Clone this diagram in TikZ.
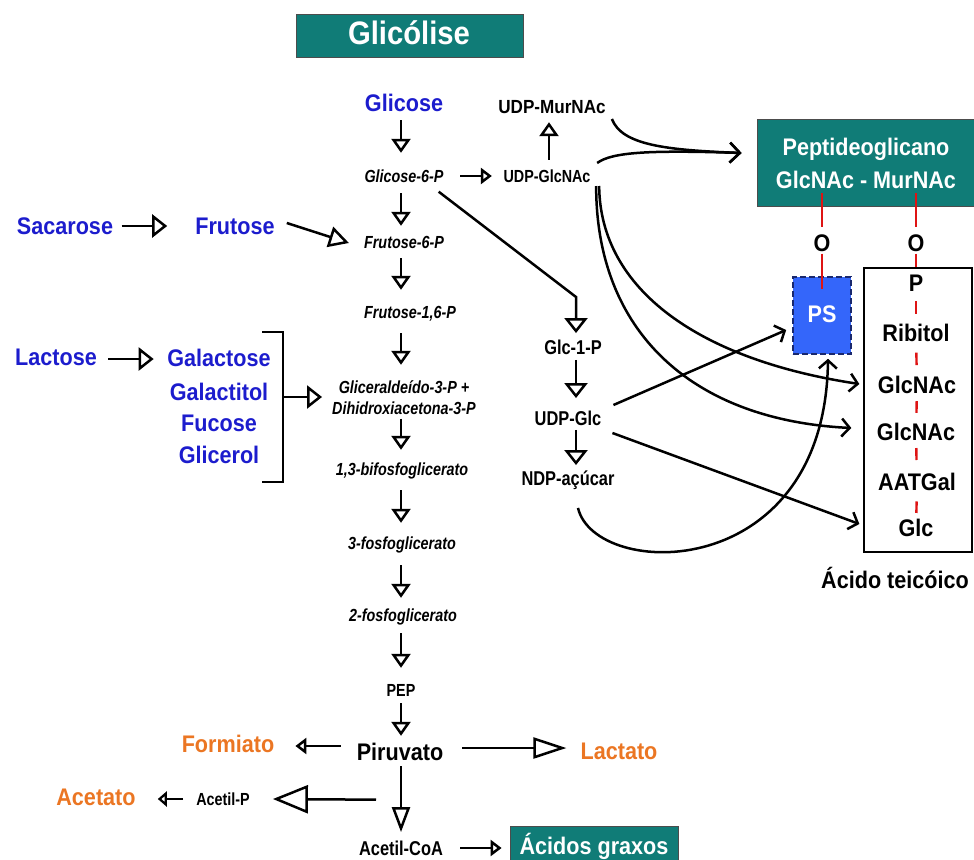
\documentclass[tikz,border=0pt]{standalone}
\usepackage{fontspec}
\setmainfont{Liberation Sans}
\newfontfamily\narf[FakeStretch=0.82]{Liberation Sans}
\newfontfamily\midf[FakeStretch=0.9]{Liberation Sans}
\usetikzlibrary{arrows.meta,calc}
\definecolor{tblue}{RGB}{28,28,205}
\definecolor{torange}{RGB}{235,118,35}
\definecolor{tteal}{RGB}{16,124,119}
\definecolor{psblue}{RGB}{52,102,250}
\definecolor{psedge}{RGB}{25,40,110}
\definecolor{tred}{RGB}{222,20,20}
\begin{document}
\begin{tikzpicture}[x=1pt,y=-1pt,
  every node/.style={inner sep=0pt},
  bigt/.style={font=\midf\bfseries\fontsize{24}{26}\selectfont, text height=17pt, text depth=4pt},
  titlet/.style={font=\midf\bfseries\fontsize{32.5}{34}\selectfont, text height=23pt, text depth=0pt, text=white},
  murt/.style={font=\midf\bfseries\fontsize{19}{21}\selectfont, text height=14pt, text depth=4pt},
  smallt/.style={font=\narf\bfseries\fontsize{17.5}{20}\selectfont, text height=13pt, text depth=4pt},
  itt/.style={font=\narf\bfseries\itshape\fontsize{17.5}{20}\selectfont, text height=13pt, text depth=4pt},
  medt/.style={font=\narf\bfseries\fontsize{20}{22}\selectfont, text height=15pt, text depth=4.5pt},
  tealbox/.style={fill=tteal, draw=black!70, line width=0.8pt},
  redl/.style={draw=tred, line width=2.4pt},
  ln/.style={line width=2.5pt},
  tri/.style={ln, -{Triangle[open,length=14pt,width=19pt]}},
  triB/.style={ln, -{Triangle[open,length=15pt,width=23pt]}},
  triS/.style={ln, -{Triangle[open,length=11pt,width=16pt]}},
  triT/.style={ln, -{Triangle[open,length=9pt,width=15pt]}},
  triF/.style={ln, -{Triangle[open,length=20pt,width=21pt]}},
  triL/.style={ln, -{Triangle[open,length=33pt,width=21pt]}},
  triA/.style={ln, -{Triangle[open,length=35pt,width=28pt]}},
  triC/.style={ln, -{Triangle[open,length=25pt,width=18pt]}},
  barb/.style={ln, -{Straight Barb[length=8pt,width=18pt]}},
  barbL/.style={ln, -{Straight Barb[length=10pt,width=20pt]}}
]
\useasboundingbox (0,0) rectangle (974,859);
\clip (0,0) rectangle (974,859);

% ---------- title ----------
\node[tealbox, minimum width=227pt, minimum height=43pt] (tbox) at (409.5,35.5) {};
\node[titlet] (ttl) at (409,33.5) {Glicólise};

% ---------- glycolysis chain ----------
\coordinate (axis) at (401,0);
\node[bigt,tblue] (glc) at (404,105) {Glicose};
\node[itt] (g6p) at (404,178) {Glicose-6-P};
\node[itt] (f6p) at (404,244) {Frutose-6-P};
\node[itt] (f16p) at (410,314) {Frutose-1,6-P};
\node[itt] (gli1) at (404,389) {Gliceraldeído-3-P +};
\node[itt] (gli2) at (404,410) {Dihidroxiacetona-3-P};
\node[itt] (bpg) at (402,471) {1,3-bifosfoglicerato};
\node[itt] (p3g) at (402,545) {3-fosfoglicerato};
\node[itt] (p2g) at (403,617) {2-fosfoglicerato};
\node[smallt] (pep) at (401,692) {PEP};
\node[bigt] (pir) at (400,754) {Piruvato};

\draw[tri, shorten <=4.5pt, shorten >=16.5pt] (glc.south -| axis) -- (g6p.north -| axis);
\draw[tri, shorten <=6.5pt, shorten >=9.5pt] (g6p.south -| axis) -- (f6p.north -| axis);
\draw[tri, shorten <=5.5pt, shorten >=15.5pt] (f6p.south -| axis) -- (f16p.north -| axis);
\draw[tri, shorten <=10.5pt, shorten >=15.5pt] (f16p.south -| axis) -- (gli1.north -| axis);
\draw[tri, shorten <=0pt, shorten >=12.5pt] (gli2.south -| axis) -- (bpg.north -| axis);
\draw[tri, shorten <=10.5pt, shorten >=13.5pt] (bpg.south -| axis) -- (p3g.north -| axis);
\draw[tri, shorten <=11.5pt, shorten >=10.5pt] (p3g.south -| axis) -- (p2g.north -| axis);
\draw[tri, shorten <=7.5pt, shorten >=15.5pt] (p2g.south -| axis) -- (pep.north -| axis);
\draw[tri, shorten <=2.5pt, shorten >=7.5pt] (pep.south -| axis) -- (pir.north -| axis);

% ---------- UDP-GlcNAc / MurNAc ----------
\coordinate (axm) at (549,0);
\node[murt] (murnac) at (552,108) {UDP-MurNAc};
\node[smallt] (gnac) at (547,178) {UDP-GlcNAc};
\draw[triS, shorten <=16.5pt, shorten >=11.5pt] ($(g6p.east)+(0,-2)$) -- ($(gnac.west)+(0,-2)$);
\draw[tri, shorten <=9.5pt, shorten >=5pt] (gnac.north -| axm) -- (murnac.south -| axm);

% ---------- left sugars ----------
\node[bigt,tblue] (sac) at (65,228) {Sacarose};
\node[bigt,tblue] (fru) at (235,228) {Frutose};
\node[bigt,tblue] (lac) at (56,359) {Lactose};
\node[bigt,tblue] (gal) at (219,360) {Galactose};
\node[bigt,tblue] (galt) at (219,394) {Galactitol};
\node[bigt,tblue] (fuc) at (219,425) {Fucose};
\node[bigt,tblue] (glr) at (219,457) {Glicerol};

\draw[triB, shorten <=8.5pt, shorten >=28pt] ($(sac.east)+(0,-2)$) -- ($(fru.west)+(0,-2)$);
\draw[triF] ($(fru.east)+(12,-5)$) -- ($(f6p.west)+(-15,-1)$);
\draw[triB, shorten <=11pt, shorten >=13.5pt] ($(lac.east)+(0,0)$) -- ($(gal.west)+(0,-1)$);

\draw[ln] (262,332) -- (283,332) -- (283,482) -- (262,482);
\coordinate (brk) at (283,397);
\draw[triB] (brk) -- ($(gli2.west |- brk)+(-10,0)$);

% ---------- Glc-1-P branch ----------
\coordinate (ax2) at (576,0);
\coordinate (bend) at (576,297);
\node[medt] (g1p) at (573,349) {Glc-1-P};
\node[medt] (udpg) at (568,420) {UDP-Glc};
\node[medt] (ndp) at (568,480) {NDP-açúcar};
\draw[triB, shorten >=6pt] ($(g6p.south east)+(-5,5)$) -- (bend) -- (bend |- g1p.north);
\draw[triB, shorten <=1pt, shorten >=12pt] (g1p.south -| ax2) -- (udpg.north -| ax2);
\draw[triB, shorten >=5pt] (udpg.south -| ax2) -- (ndp.north -| ax2);

% ---------- bottom ----------
\node[bigt,torange] (form) at (228,746) {Formiato};
\node[bigt,torange] (lact) at (619,753) {Lactato};
\node[smallt] (acp) at (223,801) {Acetil-P};
\node[bigt,torange] (acet) at (96,799) {Acetato};
\node[medt] (acoa) at (401,850) {Acetil-CoA};
\node[tealbox, minimum width=168pt, minimum height=44pt] (abox) at (594,848) {};
\node[bigt,white] (acg) at (594,848) {Ácidos graxos};

\draw[triS] ($(pir.west)+(-16,-8)$) -- ($(form.east)+(21,0)$);
\draw[triL] ($(pir.east)+(19,-6)$) -- ($(lact.west)+(-14,-5)$);
\draw[triC, shorten <=1.5pt, shorten >=8pt] (pir.south -| axis) -- (acoa.north -| axis);
\draw[triA] ($(pir.south)+(-24,35)$) -- ($(acp.east)+(23,-2)$);
\draw[triT] ($(acp.west)+(-13,-2)$) -- ($(acet.east)+(22,0)$);
\draw[triS] ($(acoa.east)+(17,-2)$) -- ($(abox.west |- acoa)+(-8,-2)$);

% ---------- cell wall ----------
\node[tealbox, minimum width=230pt, minimum height=87pt] (pgbox) at (872,162.5) {};
\node[bigt,white] (pg1) at (866,149) {Peptideoglicano};
\node[bigt,white] (pg2) at (866,182) {GlcNAc - MurNAc};
\node[bigt] (o1) at (822,245) {O};
\node[bigt] (o2) at (916,245) {O};
\node[bigt, white, fill=psblue, draw=psedge, dash pattern=on 6pt off 3pt, line width=1.6pt,
      minimum width=58pt, minimum height=77pt] (ps) at (822,315.5) {PS};
\node[draw=black, line width=1.3pt, minimum width=108pt, minimum height=284pt] (tabox) at (918,410) {};
\node[bigt] (tp) at (916,285) {P};
\node[bigt] (trib) at (916,335) {Ribitol};
\node[bigt] (t3) at (917,387) {GlcNAc};
\node[bigt] (t4) at (916,434) {GlcNAc};
\node[bigt] (t5) at (917,484) {AATGal};
\node[bigt] (t6) at (916,530) {Glc};
\node[bigt] (tac) at (895,582) {Ácido teicóico};

\coordinate (r1a) at (822,193);
\coordinate (r2a) at (916,193);
\draw[redl, shorten >=7.5pt] (r1a) -- (o1.north);
\draw[redl, shorten >=7.5pt] (r2a) -- (o2.north);
\draw[redl] ($(o1.south)+(0,-2)$) -- ($(ps.north)+(0,13)$);
\draw[redl] ($(o2.south)+(0,-2)$) -- (tabox.north -| o2);
\draw[redl] ($(tp)!0.32!(trib)$) -- ($(tp)!0.58!(trib)$);
\draw[redl] ($(trib)!0.34!(t3)$) -- ($(trib)!0.58!(t3)$);
\draw[redl] ($(t3)!0.30!(t4)$) -- ($(t3)!0.55!(t4)$);
\draw[redl] ($(t4)!0.28!(t5)$) -- ($(t4)!0.52!(t5)$);
\draw[redl] ($(t5)!0.38!(t6)$) -- ($(t5)!0.63!(t6)$);

% ---------- curved connectors ----------
\draw[barbL] ($(murnac.east)+(6,11)$) .. controls (622,145) and (665,150) .. ($(pgbox.west)+(-15,-9.5)$);
\draw[barbL] ($(gnac.east)+(6.5,-15)$) .. controls (612,152) and (650,150) .. ($(pgbox.west)+(-15,-9.5)$);
\draw[barb] ($(gnac.east)+(8.5,8)$) .. controls (600,290) and (700,360) .. ($(tabox.west)+(-4,-26)$);
\draw[barb] ($(gnac.east)+(5.5,8)$) .. controls (596,330) and (690,420) .. ($(tabox.west)+(-12,18)$);
\draw[barb] ($(udpg.east)+(12,-15)$) -- ($(ps.west)+(-6,14.5)$);
\draw[barb] ($(udpg.east)+(11,13)$) -- ($(tabox.west)+(-4,114)$);
\draw[barb] ($(ndp.south)+(10,18)$) .. controls (595,580) and (825,585) .. ($(ps.south)+(6,4)$);
\end{tikzpicture}
\end{document}
